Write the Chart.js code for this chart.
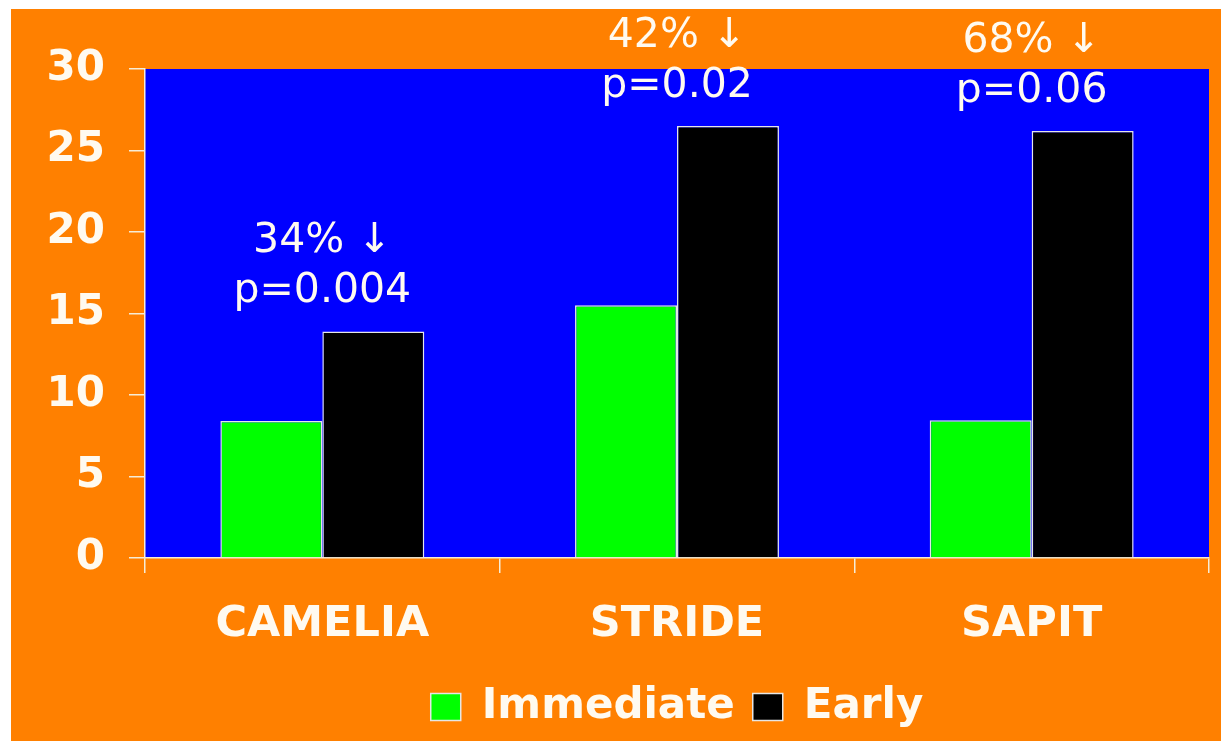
<!DOCTYPE html>
<html>
<head>
<meta charset="utf-8">
<script src="https://cdn.jsdelivr.net/npm/chart.js@4.4.1/dist/chart.umd.min.js"></script>
<style>
  html, body { margin: 0; padding: 0; background: #ffffff; }
  #frame {
    position: absolute; left: 11px; top: 9px;
    width: 1210px; height: 732px;
    background: #ff8000;
  }
  #chart { display: block; }
</style>
</head>
<body>
<div id="frame"><canvas id="chart" width="1210" height="732"></canvas></div>
<script>
// Trial groups and event rates (%) per strategy
const categories = ['CAMELIA', 'STRIDE', 'SAPIT'];
const immediateValues = [8.4, 15.5, 8.45];
const earlyValues = [13.9, 26.5, 26.2];
const reductionLabels = ['34% \u2193', '42% \u2193', '68% \u2193'];
const pValueLabels = ['p=0.004', 'p=0.02', 'p=0.06'];
const yTicks = [0, 5, 10, 15, 20, 25, 30];

const textColor = '#fffaf0';
const lineColor = '#f6ecd6';
const fontFamily = '"DejaVu Sans", Verdana, sans-serif';

// Blue plot area behind the bars
const plotBackground = {
  id: 'plotBackground',
  beforeDraw(chart) {
    const { ctx, chartArea: a } = chart;
    ctx.save();
    ctx.fillStyle = '#0000ff';
    ctx.fillRect(a.left, a.top, a.right - a.left, a.bottom - a.top);
    ctx.restore();
  }
};

// Centre the legend under the plot area rather than the whole canvas
const legendUnderPlot = {
  id: 'legendUnderPlot',
  afterLayout(chart) {
    if (chart.legend) {
      chart.legend.left = chart.chartArea.left;
      chart.legend.right = chart.chartArea.right;
    }
  }
};

// Two-line note above each group: relative reduction and p value
const groupNotes = {
  id: 'groupNotes',
  afterDraw(chart) {
    const { ctx } = chart;
    const x = chart.scales.x, y = chart.scales.y;
    ctx.save();
    ctx.fillStyle = textColor;
    ctx.font = '41px ' + fontFamily;
    ctx.textAlign = 'center';
    ctx.textBaseline = 'alphabetic';
    categories.forEach((c, i) => {
      const cx = x.getPixelForValue(i);
      const top = y.getPixelForValue(Math.max(immediateValues[i], earlyValues[i]));
      ctx.fillText(pValueLabels[i], cx, top - 29);
      ctx.fillText(reductionLabels[i], cx, top - 79);
    });
    ctx.restore();
  }
};

new Chart(document.getElementById('chart'), {
  type: 'bar',
  data: {
    labels: categories,
    datasets: [
      { label: 'Immediate', data: immediateValues, backgroundColor: '#00ff00',
        borderColor: '#e6e6e6', borderWidth: 1.5 },
      { label: 'Early', data: earlyValues, backgroundColor: '#000000',
        borderColor: '#e6e6e6', borderWidth: 1.5 }
    ]
  },
  options: {
    responsive: false,
    animation: false,
    layout: { padding: { left: 0, top: 60, right: 12, bottom: 3 } },
    datasets: { bar: { categoryPercentage: 0.575, barPercentage: 1.0 } },
    plugins: {
      tooltip: { enabled: false },
      legend: {
        position: 'bottom',
        labels: {
          color: textColor,
          font: { family: fontFamily, size: 42, weight: 'bold' },
          boxWidth: 30, boxHeight: 27, padding: 18
        }
      }
    },
    scales: {
      x: {
        grid: { display: true, drawOnChartArea: false, offset: true,
                color: lineColor, lineWidth: 1.5, tickLength: 15 },
        border: { color: lineColor, width: 1.5 },
        ticks: { color: textColor, padding: 26,
                 font: { family: fontFamily, size: 43, weight: 'bold' } },
        afterFit(s) { s.height = 110; }
      },
      y: {
        min: 0, max: 30,
        afterBuildTicks(s) { s.ticks = yTicks.map(v => ({ value: v })); },
        grid: { display: true, drawOnChartArea: false,
                color: lineColor, lineWidth: 1.5, tickLength: 16 },
        border: { color: lineColor, width: 1.5 },
        ticks: { color: textColor, padding: 24,
                 font: { family: fontFamily, size: 42, weight: 'bold' } },
        afterFit(s) { s.width = 134; }
      }
    }
  },
  plugins: [plotBackground, legendUnderPlot, groupNotes]
});
</script>
</body>
</html>
